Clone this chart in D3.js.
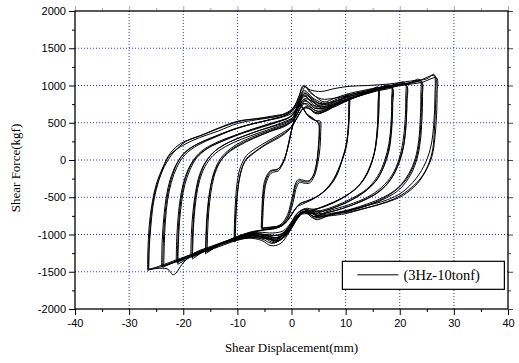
<!DOCTYPE html>
<html>
<head>
<meta charset="utf-8">
<script src="https://cdn.jsdelivr.net/npm/d3@7"></script>
<style>
    body { margin: 0; background: #fff; }
    .tick text { font-family: "Liberation Sans", Arial, sans-serif; font-size: 11px; fill: #000; }
    .axis-title { font-family: "Liberation Serif", "Times New Roman", serif; font-size: 13px; fill: #000; }
    .legend-text { font-family: "Liberation Serif", "Times New Roman", serif; font-size: 14.5px; fill: #000; }
</style>
</head>
<body>
<div class="graph"></div>
<script>
// dimensions
const margin = { top: 11, right: 11, bottom: 54, left: 75 };
const width = 519 - margin.left - margin.right;
const height = 363 - margin.top - margin.bottom;

// axis ticks
const xMajorTicks = [-40, -30, -20, -10, 0, 10, 20, 30, 40];
const xMinorTicks = [-35, -25, -15, -5, 5, 15, 25, 35];
const yMajorTicks = [-2000, -1500, -1000, -500, 0, 500, 1000, 1500, 2000];
const yMinorTicks = [-1750, -1250, -750, -250, 250, 750, 1250, 1750];
const xGrid = [-30, -20, -10, 0, 10, 20, 30];
const yGrid = [-1500, -1000, -500, 0, 500, 1000, 1500];

const legendLabel = "(3Hz-10tonf)";

// hysteresis cycles, [displacement mm, force kgf]
const loop05a = [[-5.5,-920],[-5.4,-750],[-5.2,-470],[-4.9,-320],[-4.5,-230],[-3.9,-160],[-3.3,-140],[-2.6,-130],[-1.8,-60],[-1.2,30],[-0.6,200],[-0.1,370],[0.4,510],[1,700],[1.8,720],[3,600],[4.2,540],[5.1,500],
    [5.2,400],[5.0,150],[4.7,-30],[4.1,-200],[3.2,-290],[2.2,-290],[1.4,-280],[0.8,-340],[0.4,-470],[-0.1,-620],[-0.6,-750],[-1.8,-870],[-3.5,-900],[-5.5,-920]];
const loop05b = [[-5.6,-910],[-5.5,-720],[-5.3,-450],[-5,-290],[-4.5,-200],[-3.8,-140],[-3,-130],[-2.3,-110],[-1.6,-30],[-1,80],[-0.4,250],[0.1,420],[0.6,560],[1.2,740],[2,700],[3.2,580],[4.4,530],[5.3,520],
    [5.4,380],[5.2,120],[4.8,-60],[4.2,-220],[3.3,-310],[2.3,-310],[1.5,-300],[0.9,-370],[0.5,-500],[0,-650],[-0.7,-780],[-2,-880],[-3.8,-900],[-5.6,-910]];
const loop05c = [[-5.4,-930],[-5.3,-770],[-5.1,-500],[-4.8,-340],[-4.4,-250],[-3.8,-180],[-3.2,-160],[-2.5,-150],[-1.9,-90],[-1.3,0],[-0.7,170],[-0.2,340],[0.3,480],[0.9,660],[1.6,740],[2.8,620],[4,560],[5,480],
    [5.1,380],[4.9,130],[4.6,-50],[4,-210],[3.1,-280],[2.1,-270],[1.3,-260],[0.7,-320],[0.3,-450],[-0.2,-600],[-0.7,-730],[-1.9,-860],[-3.6,-910],[-5.4,-930]];

const loop10a = [[-10.4,-1080],[-10.3,-820],[-10.1,-560],[-9.8,-330],[-9.3,-140],[-8.3,20],[-6.6,120],[-4.2,240],[-2,330],[-0.3,420],[1,560],[2,680],[3,700],[4.6,620],[6.5,670],[8.5,770],[10.4,860],
    [10.6,700],[10.5,440],[10.1,200],[9.3,0],[7.8,-270],[6,-420],[4.2,-510],[2.6,-560],[1.5,-590],[0.4,-690],[-0.8,-820],[-2.3,-900],[-4.2,-930],[-6.5,-950],[-8.5,-990],[-10.4,-1080]];
const loop10b = [[-10.6,-1060],[-10.5,-780],[-10.3,-500],[-10,-280],[-9.4,-90],[-8.3,60],[-6.5,160],[-4,270],[-1.8,360],[0,450],[1.3,600],[2.3,700],[3.5,680],[5,620],[7,700],[9,800],[10.6,850],
    [10.7,660],[10.5,380],[10,140],[9,-70],[7.4,-300],[5.5,-450],[3.6,-540],[2.1,-590],[1,-630],[-0.1,-740],[-1.3,-860],[-3,-920],[-5,-940],[-7.5,-970],[-9.3,-1010],[-10.6,-1060]];
const loop10c = [[-10.5,-1100],[-10.4,-850],[-10.2,-600],[-9.9,-380],[-9.4,-180],[-8.6,-20],[-7,90],[-4.6,210],[-2.3,300],[-0.5,400],[0.8,540],[1.8,660],[2.8,720],[4.3,640],[6.2,650],[8.2,740],[10.5,880],
    [10.6,720],[10.5,470],[10.2,230],[9.5,30],[8.2,-230],[6.4,-400],[4.5,-500],[2.8,-550],[1.7,-580],[0.6,-670],[-0.6,-800],[-2,-890],[-4,-920],[-6.5,-960],[-8.8,-1010],[-10.5,-1100]];

const loop16a = [[-15.6,-1240],[-15.5,-980],[-15.3,-700],[-14.9,-440],[-14.3,-220],[-13.3,-40],[-11.8,100],[-9.6,210],[-6.6,310],[-3.5,400],[-1,470],[0.6,560],[1.8,720],[2.7,760],[4.5,660],[6.5,680],[9,760],[12,850],[15.8,960],
    [16.0,760],[15.9,450],[15.5,170],[14.7,-60],[13.4,-260],[11.5,-410],[9,-530],[6.3,-620],[3.8,-670],[2.2,-670],[1,-720],[-0.2,-850],[-1.5,-950],[-3.5,-980],[-6,-970],[-9,-1000],[-12,-1090],[-14.3,-1180],[-15.6,-1240]];
const loop16b = [[-15.8,-1230],[-15.7,-940],[-15.4,-640],[-15,-380],[-14.3,-160],[-13.1,20],[-11.3,150],[-8.8,260],[-5.8,350],[-2.8,430],[-0.4,500],[1,620],[2.1,760],[3.2,720],[5,650],[7.5,700],[10.5,800],[13.5,890],[15.9,940],
    [16.0,700],[15.8,380],[15.3,100],[14.3,-120],[12.8,-310],[10.5,-460],[7.8,-570],[5,-650],[3,-700],[1.8,-710],[0.6,-790],[-0.6,-920],[-2.2,-1000],[-4.2,-1010],[-7,-990],[-10,-1030],[-13,-1130],[-15.8,-1230]];
const loop16c = [[-15.9,-1260],[-15.8,-1000],[-15.6,-720],[-15.2,-460],[-14.6,-250],[-13.7,-80],[-12.3,60],[-10,180],[-7,290],[-4,380],[-1.3,450],[0.3,530],[1.6,690],[2.5,800],[3.8,740],[5.8,680],[8.3,740],[11.3,830],[14,900],[16,980],
    [16.2,780],[16,470],[15.6,190],[14.8,-40],[13.6,-230],[11.8,-390],[9.3,-510],[6.6,-600],[4.2,-660],[2.6,-650],[1.3,-700],[0.1,-830],[-1.2,-960],[-3,-1050],[-5.2,-1000],[-8,-990],[-11,-1060],[-13.8,-1160],[-15.9,-1260]];

const loop18a = [[-18.4,-1310],[-18.3,-1050],[-18.1,-760],[-17.7,-480],[-17.1,-260],[-16.1,-60],[-14.6,90],[-12.3,210],[-9.2,310],[-5.8,400],[-2.5,470],[0,550],[1.5,740],[2.4,810],[4.2,700],[6.5,700],[9,770],[12,850],[15,910],[18.4,990],
    [18.6,780],[18.5,480],[18.1,200],[17.3,-30],[16,-240],[14,-400],[11.5,-520],[8.5,-620],[5.5,-690],[3.2,-690],[1.8,-700],[0.6,-800],[-0.6,-930],[-2.3,-1010],[-4.5,-1000],[-7,-990],[-10,-1040],[-13,-1120],[-16,-1220],[-18.4,-1310]];
const loop18b = [[-18.6,-1300],[-18.5,-1000],[-18.2,-690],[-17.7,-420],[-17,-200],[-15.8,-20],[-14,130],[-11.5,240],[-8.5,330],[-5,420],[-1.8,500],[0.4,580],[1.8,760],[2.7,790],[4.5,690],[7,720],[10,800],[13,870],[16,940],[18.6,970],
    [18.7,740],[18.5,400],[18.0,120],[17,-100],[15.5,-290],[13.2,-440],[10.5,-560],[7.5,-650],[4.8,-710],[2.8,-720],[1.4,-740],[0.2,-860],[-1.2,-990],[-3,-1080],[-5,-1040],[-8,-1010],[-11,-1070],[-14,-1160],[-16.8,-1250],[-18.6,-1300]];
const loop18c = [[-18.3,-1330],[-18.2,-1060],[-18,-780],[-17.6,-500],[-17,-280],[-16,-90],[-14.5,60],[-12.2,180],[-9.2,280],[-5.8,370],[-2.6,450],[-0.2,530],[1.3,720],[2.2,860],[3.5,800],[5.5,720],[8,760],[11,840],[14.5,920],[18.3,1000],
    [18.5,800],[18.4,500],[18,220],[17.2,-10],[15.9,-220],[13.9,-390],[11.3,-510],[8.3,-610],[5.3,-680],[3,-680],[1.6,-720],[0.4,-830],[-0.9,-960],[-2.7,-1040],[-4.8,-1010],[-7.5,-1000],[-10.5,-1050],[-13.5,-1130],[-16.3,-1230],[-18.3,-1330]];

const loop21a = [[-21.1,-1380],[-21.0,-1100],[-20.8,-800],[-20.4,-520],[-19.8,-300],[-18.8,-100],[-17.3,60],[-15,180],[-12,280],[-8.5,380],[-5,460],[-2,530],[0.2,600],[1.6,780],[2.5,860],[4.3,730],[6.5,720],[9,790],[12,860],[15,920],[18,970],[21.1,1020],
    [21.3,820],[21.2,520],[20.8,230],[20,0],[18.7,-220],[16.8,-390],[14.3,-510],[11,-610],[7.5,-690],[5,-720],[3,-680],[1.6,-720],[0.4,-840],[-0.8,-960],[-2.5,-1040],[-4.5,-1020],[-7,-1000],[-10,-1050],[-13.5,-1130],[-17,-1240],[-19.5,-1320],[-21.1,-1380]];
const loop21b = [[-21.3,-1370],[-21.2,-1050],[-20.9,-730],[-20.4,-450],[-19.6,-220],[-18.4,-30],[-16.6,120],[-14,230],[-10.5,330],[-7,420],[-3.5,500],[-0.5,570],[1.2,700],[2.3,820],[3.6,800],[5.5,700],[8,740],[11,830],[14,900],[17.5,950],[21.2,1000],
    [21.3,760],[21.1,420],[20.6,140],[19.6,-90],[18,-290],[15.8,-440],[13,-550],[9.5,-650],[6.5,-710],[4.2,-760],[2.6,-690],[1.2,-760],[0,-900],[-1.5,-1030],[-3.2,-1110],[-5,-1050],[-8,-1020],[-11.5,-1080],[-15,-1180],[-18.5,-1290],[-21.3,-1370]];
const loop21c = [[-21.0,-1400],[-20.9,-1130],[-20.7,-840],[-20.3,-560],[-19.7,-330],[-18.8,-140],[-17.5,30],[-15.4,160],[-12.5,260],[-9,360],[-5.5,440],[-2.5,510],[-0.2,580],[1.3,740],[2.2,900],[3.4,850],[5.2,760],[7.5,780],[10.5,850],[13.5,910],[17,960],[20.9,1040],
    [21.1,840],[21,540],[20.6,250],[19.9,20],[18.6,-200],[16.6,-370],[14,-500],[10.6,-600],[7,-680],[4.6,-740],[2.8,-660],[1.4,-700],[0.2,-820],[-1,-950],[-2.8,-1070],[-4.8,-1040],[-7.5,-1010],[-10.5,-1060],[-14,-1150],[-17.5,-1260],[-21,-1400]];

const loop24a = [[-23.8,-1440],[-23.7,-1150],[-23.5,-850],[-23.1,-560],[-22.5,-330],[-21.6,-120],[-20.2,60],[-18,190],[-15,290],[-11.5,390],[-8,470],[-4.5,530],[-1.5,580],[0.5,650],[1.8,830],[2.6,900],[4.3,780],[6.5,740],[9,810],[12,880],[15.5,940],[19,990],[21.5,1020],[24,1060],
    [24.2,850],[24.1,550],[23.8,250],[23.2,20],[22,-200],[20,-390],[17.5,-510],[14.5,-600],[11,-680],[7.5,-730],[5,-750],[3,-690],[1.5,-730],[0.3,-860],[-1,-980],[-2.8,-1060],[-5,-1030],[-7.5,-1020],[-10.5,-1070],[-14,-1150],[-17.5,-1240],[-21,-1350],[-23.8,-1440]];
const loop24b = [[-24.0,-1430],[-23.9,-1100],[-23.6,-780],[-23.1,-480],[-22.4,-260],[-21.3,-60],[-19.6,110],[-17,230],[-14,320],[-10.5,420],[-7,490],[-3.5,550],[-0.8,610],[0.8,720],[2,870],[3,860],[4.8,740],[7,760],[10,840],[13,900],[16.5,960],[20,1000],[23.9,1040],
    [24.0,820],[23.9,480],[23.5,180],[22.7,-50],[21.2,-260],[19,-420],[16,-550],[12.5,-640],[9,-700],[6,-750],[4,-780],[2.5,-700],[1,-760],[-0.3,-920],[-1.8,-1050],[-3.5,-1120],[-5.5,-1060],[-8.5,-1040],[-12,-1100],[-15.5,-1190],[-19,-1290],[-22,-1380],[-24.0,-1430]];
const loop24c = [[-23.6,-1420],[-23.5,-1120],[-23.3,-820],[-22.9,-540],[-22.2,-300],[-21.2,-100],[-19.7,70],[-17.3,200],[-14.3,300],[-11,400],[-7.5,480],[-4,540],[-1.2,600],[0.5,680],[1.7,850],[2.5,980],[3.5,900],[5.5,820],[8,830],[11,880],[14.5,940],[18,990],[21.5,1030],[23.7,1080],
    [23.9,870],[23.8,560],[23.5,260],[22.9,30],[21.7,-180],[19.7,-370],[17,-500],[14,-590],[10.5,-670],[7,-720],[4.8,-740],[3.1,-680],[1.7,-720],[0.5,-840],[-0.8,-990],[-2.5,-1090],[-4.5,-1040],[-7,-1020],[-10,-1060],[-13.5,-1140],[-17,-1230],[-20.5,-1330],[-23.6,-1420]];

const loop26a = [[-26.4,-1465],[-26.3,-1200],[-26.0,-900],[-25.6,-620],[-25.0,-400],[-24.0,-160],[-22.7,60],[-20.5,220],[-17,320],[-13.8,420],[-10,520],[-7,550],[-3.5,590],[-0.5,640],[1,760],[2.2,1000],[4,880],[6,780],[8,830],[10.5,890],[13,930],[16.5,980],[20,1020],[23,1050],[26.5,1130],
    [26.7,950],[26.6,700],[26.4,400],[26.1,150],[25.3,-60],[23.8,-250],[21.5,-410],[19,-520],[16.4,-590],[13,-660],[10,-720],[7,-750],[5,-760],[3,-700],[1.5,-740],[0.5,-860],[-0.8,-1000],[-2.5,-1080],[-4.5,-1060],[-7,-1040],[-10,-1070],[-13.5,-1150],[-17,-1230],[-20.5,-1320],[-23.5,-1400],[-25.5,-1450],[-26.4,-1465]];
const loop26b = [[-26.6,-1480],[-26.5,-1150],[-26.2,-820],[-25.7,-560],[-25.0,-330],[-23.9,-120],[-22.4,70],[-20,200],[-17,300],[-13.5,390],[-10,490],[-6.5,540],[-3,580],[-0.3,650],[1.2,800],[2.3,930],[4.2,820],[6.2,760],[8.5,820],[11,880],[14,930],[17.5,980],[21,1010],[24,1040],[26.8,1100],
    [26.9,900],[26.8,600],[26.5,300],[26.0,60],[25,-120],[23.2,-320],[20.5,-480],[17.5,-570],[14,-640],[10.5,-700],[7.5,-730],[5.2,-780],[3.2,-730],[1.8,-700],[0.8,-800],[-0.3,-950],[-2,-1120],[-3.8,-1150],[-5.5,-1080],[-8,-1050],[-11,-1100],[-14,-1180],[-17.5,-1260],[-21,-1360],[-24,-1430],[-26.6,-1480]];
const loop26c = [[-26.4,-1470],[-26.3,-1100],[-26.0,-780],[-25.5,-520],[-24.7,-300],[-23.5,-90],[-21.8,100],[-19.5,250],[-16,350],[-12.5,450],[-9,530],[-5.5,560],[-2,600],[0.3,700],[1.5,880],[2.3,990],[3.5,940],[5.5,920],[8,960],[10.8,990],[14,1000],[18,1020],[22,1060],[25,1090],[26.3,1150],
    [26.5,850],[26.3,500],[25.8,200],[24.8,-30],[23,-250],[20.5,-430],[17.5,-540],[14,-610],[10.5,-680],[7,-740],[4.5,-800],[2.8,-680],[1.2,-780],[0,-900],[-1.5,-1030],[-3,-1100],[-5,-1020],[-8,-1000],[-11,-1060],[-14.5,-1150],[-18,-1250],[-20,-1380],[-21.8,-1540],[-23,-1460],[-26.4,-1470]];

const cycles = [loop05a, loop05b, loop05c, loop10a, loop10b, loop10c, loop16a, loop16b, loop16c,
    loop18a, loop18b, loop18c, loop21a, loop21b, loop21c, loop24a, loop24b, loop24c,
    loop26a, loop26b, loop26c];

const svg = d3.select(".graph")
    .append("svg")
    .attr("width", width + margin.left + margin.right)
    .attr("height", height + margin.top + margin.bottom)
    .append("g")
    .attr("transform", "translate(" + margin.left + "," + margin.top + ")");

const x = d3.scaleLinear()
    .domain([-40, 40])
    .range([0, width]);

const y = d3.scaleLinear()
    .domain([-2000, 2000])
    .range([height, 0]);

// blue dotted grid
svg.append("g")
    .selectAll("line")
    .data(xGrid)
    .enter()
    .append("line")
    .attr("x1", d => x(d)).attr("x2", d => x(d))
    .attr("y1", 0).attr("y2", height)
    .attr("stroke", "#2e2eff")
    .attr("stroke-width", 1)
    .attr("stroke-dasharray", "1,2");

svg.append("g")
    .selectAll("line")
    .data(yGrid)
    .enter()
    .append("line")
    .attr("y1", d => y(d)).attr("y2", d => y(d))
    .attr("x1", 0).attr("x2", width)
    .attr("stroke", "#2e2eff")
    .attr("stroke-width", 1)
    .attr("stroke-dasharray", "1,2");

// the loops
const line = d3.line()
    .x(d => x(d[0]))
    .y(d => y(d[1]))
    .curve(d3.curveCatmullRom.alpha(0.5));

svg.append("g")
    .selectAll("path")
    .data(cycles)
    .enter()
    .append("path")
    .attr("d", line)
    .attr("fill", "none")
    .attr("stroke", "#000")
    .attr("stroke-width", 1);

// axes, ticks pointing outwards
const plainNumber = d => String(d);

function styleAxis(g, colour) {
    g.select(".domain").remove();
    g.selectAll(".tick line").attr("stroke", colour).attr("stroke-width", 1);
}

svg.append("g")
    .attr("transform", "translate(0," + height + ")")
    .call(d3.axisBottom(x).tickValues(xMajorTicks).tickSize(6).tickPadding(4).tickFormat(plainNumber))
    .call(g => styleAxis(g, "#000"));
svg.append("g")
    .attr("transform", "translate(0," + height + ")")
    .call(d3.axisBottom(x).tickValues(xMinorTicks).tickSize(3).tickFormat(""))
    .call(g => styleAxis(g, "#000"));

svg.append("g")
    .call(d3.axisLeft(y).tickValues(yMajorTicks).tickSize(6).tickPadding(3).tickFormat(plainNumber))
    .call(g => styleAxis(g, "#000"));
svg.append("g")
    .call(d3.axisLeft(y).tickValues(yMinorTicks).tickSize(3).tickFormat(""))
    .call(g => styleAxis(g, "#000"));

svg.append("g")
    .call(d3.axisTop(x).tickValues(xMajorTicks).tickSize(5).tickFormat(""))
    .call(g => styleAxis(g, "#aaa"));
svg.append("g")
    .call(d3.axisTop(x).tickValues(xMinorTicks).tickSize(3).tickFormat(""))
    .call(g => styleAxis(g, "#aaa"));

svg.append("g")
    .attr("transform", "translate(" + width + ",0)")
    .call(d3.axisRight(y).tickValues(yMajorTicks).tickSize(5).tickFormat(""))
    .call(g => styleAxis(g, "#444"));
svg.append("g")
    .attr("transform", "translate(" + width + ",0)")
    .call(d3.axisRight(y).tickValues(yMinorTicks).tickSize(3).tickFormat(""))
    .call(g => styleAxis(g, "#444"));

// frame
svg.append("rect")
    .attr("width", width)
    .attr("height", height)
    .attr("fill", "none")
    .attr("stroke", "#000")
    .attr("stroke-width", 1.3);

// axis titles
svg.append("text")
    .attr("class", "axis-title")
    .attr("text-anchor", "middle")
    .attr("x", x(0))
    .attr("y", height + 43)
    .text("Shear Displacement(mm)");

svg.append("text")
    .attr("class", "axis-title")
    .attr("text-anchor", "middle")
    .attr("transform", "translate(" + (-55) + "," + (y(0) + 8) + ") rotate(-90)")
    .text("Shear Force(kgf)");

// legend
const legend = svg.append("g")
    .attr("transform", "translate(" + x(9.4) + "," + y(-1360) + ")");

legend.append("rect")
    .attr("width", 162)
    .attr("height", 28)
    .attr("fill", "#fff")
    .attr("stroke", "#000")
    .attr("stroke-width", 1.2);

legend.append("line")
    .attr("x1", 15).attr("x2", 56)
    .attr("y1", 13.5).attr("y2", 13.5)
    .attr("stroke", "#000")
    .attr("stroke-width", 1);

legend.append("text")
    .attr("class", "legend-text")
    .attr("x", 61)
    .attr("y", 18.5)
    .text(legendLabel);
</script>
</body>
</html>
